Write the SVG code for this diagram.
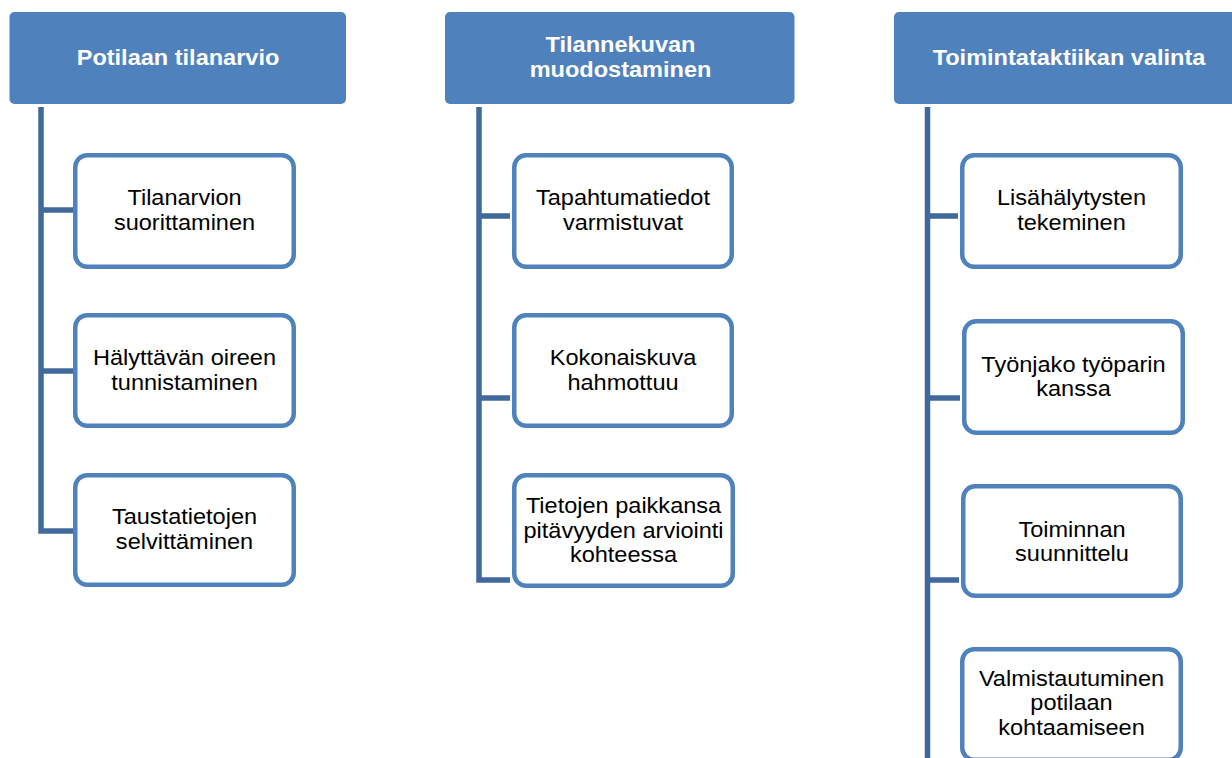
<svg xmlns="http://www.w3.org/2000/svg" width="1232" height="758" viewBox="0 0 1232 758">
  <style>
    .head { fill: #4F81BD; }
    .box { fill: #FFFFFF; stroke: #4F81BD; stroke-width: 4.5; }
    .link { fill: none; stroke: #41699C; stroke-width: 5.5; stroke-linejoin: miter; stroke-linecap: butt; }
    .ht { font-family: "Liberation Sans", Arial, sans-serif; font-size: 22px; font-weight: bold; fill: #FFFFFF; text-anchor: middle; }
    .bt { font-family: "Liberation Sans", Arial, sans-serif; font-size: 22px; fill: #000000; text-anchor: middle; }
  </style>

  <rect width="1232" height="758" fill="#FFFFFF"/>

  <!-- connectors: one spine per column with branches to each child -->
  <g id="connectors">
    <path class="link" d="M41 107 V531 H73 M41 210 H73 M41 371 H73"/>
    <path class="link" d="M479 107 V580 H510 M479 216 H510 M479 398 H510"/>
    <path class="link" d="M927.5 107 V758 M927.5 216 H958 M927.5 398 H960 M927.5 580 H959"/>
  </g>

  <!-- column 1 -->
  <g id="h1">
    <rect class="head" x="9.5" y="12" width="336.5" height="92" rx="5"/>
    <text class="ht" transform="translate(178 0) scale(1.07 1)"><tspan x="0" y="65">Potilaan tilanarvio</tspan></text>
  </g>
  <g id="c1a">
    <rect class="box" x="75.25" y="155.25" width="218.5" height="111.5" rx="12"/>
    <text class="bt" transform="translate(184.5 0) scale(1.07 1)"><tspan x="0" y="205">Tilanarvion</tspan><tspan x="0" y="230">suorittaminen</tspan></text>
  </g>
  <g id="c1b">
    <rect class="box" x="75.25" y="315.25" width="218.5" height="110.5" rx="12"/>
    <text class="bt" transform="translate(184.5 0) scale(1.07 1)"><tspan x="0" y="365">Hälyttävän oireen</tspan><tspan x="0" y="390">tunnistaminen</tspan></text>
  </g>
  <g id="c1c">
    <rect class="box" x="75.25" y="475.25" width="218.5" height="109.5" rx="12"/>
    <text class="bt" transform="translate(184.5 0) scale(1.07 1)"><tspan x="0" y="524">Taustatietojen</tspan><tspan x="0" y="549">selvittäminen</tspan></text>
  </g>

  <!-- column 2 -->
  <g id="h2">
    <rect class="head" x="445" y="12" width="349.5" height="92" rx="5"/>
    <text class="ht" transform="translate(620.5 0) scale(1.07 1)"><tspan x="0" y="52">Tilannekuvan</tspan><tspan x="0" y="77">muodostaminen</tspan></text>
  </g>
  <g id="c2a">
    <rect class="box" x="514.25" y="155.25" width="217.5" height="111.5" rx="12"/>
    <text class="bt" transform="translate(623 0) scale(1.07 1)"><tspan x="0" y="205">Tapahtumatiedot</tspan><tspan x="0" y="230">varmistuvat</tspan></text>
  </g>
  <g id="c2b">
    <rect class="box" x="514.25" y="315.25" width="217.5" height="110.5" rx="12"/>
    <text class="bt" transform="translate(623 0) scale(1.07 1)"><tspan x="0" y="365">Kokonaiskuva</tspan><tspan x="0" y="390">hahmottuu</tspan></text>
  </g>
  <g id="c2c">
    <rect class="box" x="514.25" y="475.25" width="218.5" height="110.5" rx="12"/>
    <text class="bt" transform="translate(623.5 0) scale(1.07 1)"><tspan x="0" y="513">Tietojen paikkansa</tspan><tspan x="0" y="538">pitävyyden arviointi</tspan><tspan x="0" y="562">kohteessa</tspan></text>
  </g>

  <!-- column 3 -->
  <g id="h3">
    <rect class="head" x="894" y="12" width="350" height="92" rx="5"/>
    <text class="ht" transform="translate(1069 0) scale(1.07 1)"><tspan x="0" y="65">Toimintataktiikan valinta</tspan></text>
  </g>
  <g id="c3a">
    <rect class="box" x="962.25" y="155.25" width="218.5" height="111.5" rx="12"/>
    <text class="bt" transform="translate(1071.5 0) scale(1.07 1)"><tspan x="0" y="205">Lisähälytysten</tspan><tspan x="0" y="230">tekeminen</tspan></text>
  </g>
  <g id="c3b">
    <rect class="box" x="964.25" y="321.25" width="218.5" height="111.5" rx="12"/>
    <text class="bt" transform="translate(1073.5 0) scale(1.07 1)"><tspan x="0" y="372">Työnjako työparin</tspan><tspan x="0" y="396">kanssa</tspan></text>
  </g>
  <g id="c3c">
    <rect class="box" x="963.25" y="486.25" width="217.5" height="109.5" rx="12"/>
    <text class="bt" transform="translate(1072 0) scale(1.07 1)"><tspan x="0" y="537">Toiminnan</tspan><tspan x="0" y="561">suunnittelu</tspan></text>
  </g>
  <g id="c3d">
    <rect class="box" x="962.25" y="649.25" width="218.5" height="110.5" rx="12"/>
    <text class="bt" transform="translate(1071.5 0) scale(1.07 1)"><tspan x="0" y="686">Valmistautuminen</tspan><tspan x="0" y="710">potilaan</tspan><tspan x="0" y="735">kohtaamiseen</tspan></text>
  </g>
</svg>
